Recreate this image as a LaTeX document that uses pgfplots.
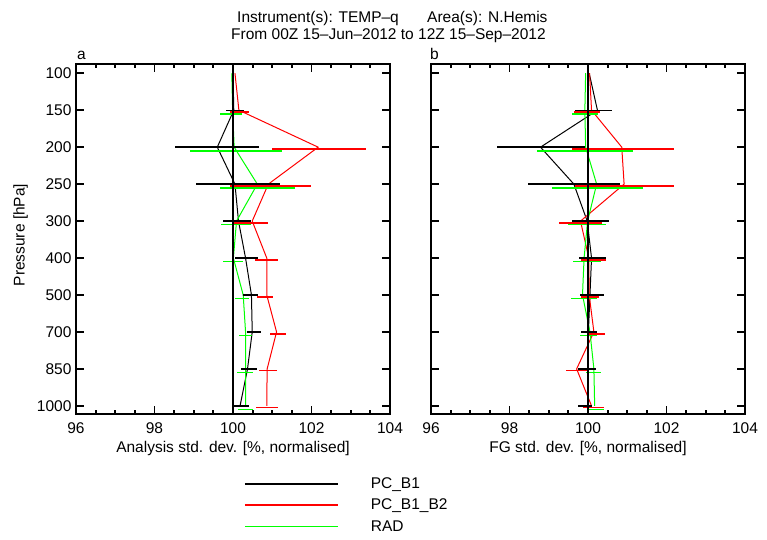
\documentclass[border=0pt]{standalone}
\usepackage{fontspec}
\setmainfont{Liberation Sans}
\usepackage{pgfplots}
\pgfplotsset{compat=1.18}
\usepackage{pgfplotstable}

% i: level index (0=100 hPa ... 9=1000 hPa)
\pgfplotstableread{
i k kc ke r rc re g gc ge
0 100.00 100.00 0.00 100.05 100.05 0.00  99.97  99.97 0.00
1 100.02 100.05 0.23 100.15 100.17 0.25  99.99  99.95 0.27
2  99.60  99.60 1.07 102.17 102.20 1.20 100.03 100.07 1.17
3 100.05 100.13 1.07 100.90 100.95 1.03 100.62 100.62 0.96
4 100.14 100.11 0.36 100.49 100.45 0.44 100.09 100.07 0.38
5 100.32 100.34 0.29 100.86 100.85 0.29 100.01 100.00 0.25
6 100.47 100.44 0.19 100.86 100.82 0.20 100.26 100.23 0.18
7 100.49 100.53 0.18 101.11 101.14 0.20 100.32 100.32 0.17
8 100.37 100.40 0.20 100.87 100.89 0.23 100.32 100.30 0.21
9 100.18 100.19 0.22 100.86 100.87 0.28 100.32 100.32 0.20
}\dataA

\pgfplotstableread{
i k kc ke r rc re g gc ge
0 100.03 100.03 0.00 100.04 100.04 0.00  99.94  99.94 0.00
1 100.24 100.13 0.47 100.09  99.98 0.33  99.92  99.93 0.33
2  98.79  98.80 1.12 100.86 100.89 1.30  99.94  99.93 1.22
3  99.64  99.65 1.17 100.92 100.93 1.26 100.22 100.24 1.15
4  99.98 100.07 0.47  99.81  99.81 0.54  99.99  99.98 0.48
5 100.09 100.11 0.34 100.02 100.14 0.33  99.90  99.98 0.35
6 100.05 100.10 0.30 100.03 100.05 0.24  99.86  99.90 0.33
7 100.01 100.03 0.21 100.15 100.20 0.23 100.05 100.01 0.21
8 100.01  99.98 0.23  99.71  99.72 0.28 100.15 100.14 0.20
9 100.01  99.92 0.17 100.09 100.15 0.27 100.17 100.20 0.21
}\dataB

\definecolor{pgreen}{RGB}{0,255,0}
\definecolor{pred}{RGB}{255,0,0}
\newcommand{\lbl}{\fontsize{15.5}{18}\selectfont}

\pgfplotsset{
  myaxis/.style={
    scale only axis, width=314pt, height=350pt,
    xmin=96, xmax=104, ymin=-0.25, ymax=9.22, y dir=reverse,
    xtick={96,98,100,102,104}, minor x tick num=3,
    ytick={0,1,2,3,4,5,6,7,8,9},
    tick align=inside,
    major tick length=8pt, minor tick length=4pt,
    axis line style={line width=1.8pt},
    every tick/.style={black, line width=1.8pt},
    tick label style={font=\lbl},
    xticklabel style={yshift=-5pt},
    yticklabel style={xshift=-1pt},
    /pgf/number format/assume math mode=true,
    /pgf/number format/1000 sep={},
    clip=false,
  },
  ebar/.style={draw=none, mark=none,
    error bars/.cd, x dir=both, x explicit, error mark=none,
    error bar style={draw=#1, solid, line width=1.4pt}},
}

\begin{document}
\begin{tikzpicture}[x=1pt,y=1pt]
\useasboundingbox (0,0) rectangle (767,539);

\begin{axis}[myaxis, at={(76pt,125pt)}, anchor=south west,
  yticklabels={100,150,200,250,300,400,500,700,850,1000},
  legend style={at={(0.525,-0.17)}, anchor=north west, draw=none, fill=none,
    font=\lbl, row sep=5pt,
    /tikz/every odd column/.append style={column sep=30pt}},
  legend cell align=left,
  legend image code/.code={\draw[#1, line width=1.8pt] (0pt,0pt) -- (93pt,0pt);},
]
\addplot[black, line width=1pt, mark=none] table[x=k, y=i]{\dataA};
\addlegendentry{PC\_B1}
\addplot[pred, line width=1pt, mark=none] table[x=r, y=i]{\dataA};
\addlegendentry{PC\_B1\_B2}
\addplot[pgreen, line width=1pt, mark=none] table[x=g, y=i]{\dataA};
\addlegendentry{RAD}
\addplot[forget plot, ebar=black] table[x=kc, y=i, x error=ke]{\dataA};
\addplot[forget plot, ebar=pred] table[x=rc, y expr=\thisrow{i}+0.05, x error=re]{\dataA};
\addplot[forget plot, ebar=pgreen] table[x=gc, y expr=\thisrow{i}+0.1, x error=ge]{\dataA};
\addplot[black, line width=2.6pt, forget plot] coordinates {(100,-0.25) (100,9.22)};
\end{axis}

\begin{axis}[myaxis, at={(431pt,125pt)}, anchor=south west,
  yticklabels={},
]
\addplot[black, line width=1pt, mark=none] table[x=k, y=i]{\dataB};
\addplot[pred, line width=1pt, mark=none] table[x=r, y=i]{\dataB};
\addplot[pgreen, line width=1pt, mark=none] table[x=g, y=i]{\dataB};
\addplot[forget plot, ebar=black] table[x=kc, y=i, x error=ke]{\dataB};
\addplot[forget plot, ebar=pred] table[x=rc, y expr=\thisrow{i}+0.05, x error=re]{\dataB};
\addplot[forget plot, ebar=pgreen] table[x=gc, y expr=\thisrow{i}+0.1, x error=ge]{\dataB};
\addplot[black, line width=2.6pt, forget plot] coordinates {(100,-0.25) (100,9.22)};
\end{axis}

\begin{scope}[every node/.style={font=\lbl, inner sep=0pt}]
\node[anchor=west] at (237,520.5) {Instrument(s): TEMP–q};
\node[anchor=west] at (427,520.5) {Area(s): N.Hemis};
\node[anchor=west] at (231,503) {From 00Z 15–Jun–2012 to 12Z 15–Sep–2012};
\node[anchor=base west] at (77,479) {a};
\node[anchor=base west] at (430,479) {b};
\node at (233,91) {Analysis std. dev. [\%, normalised]};
\node at (588,91) {FG std. dev. [\%, normalised]};
\node[rotate=90] at (20.5,304) {Pressure [hPa]};
\end{scope}
\end{tikzpicture}
\end{document}
